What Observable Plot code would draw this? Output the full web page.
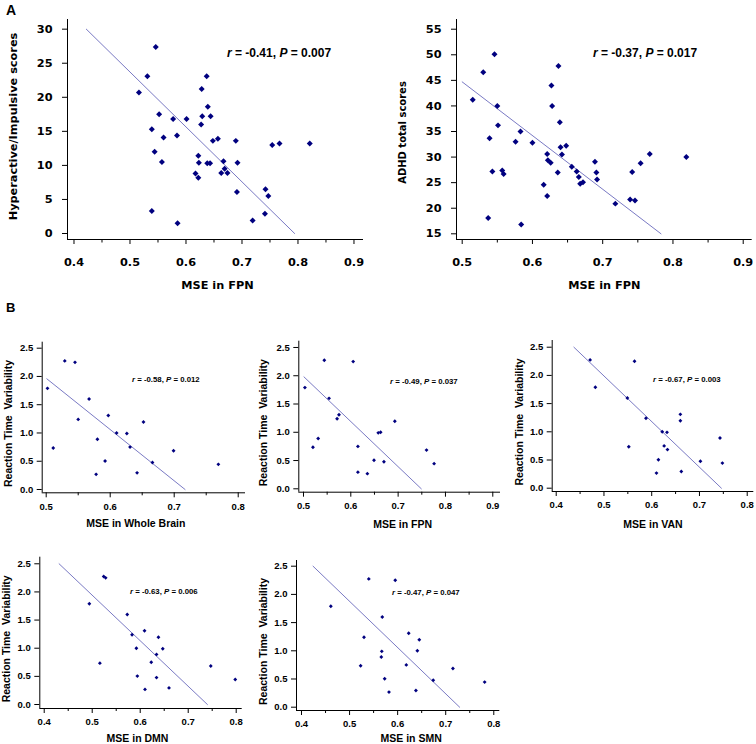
<!DOCTYPE html>
<html><head><meta charset="utf-8">
<script src="https://cdn.jsdelivr.net/npm/d3@7"></script>
<script src="https://cdn.jsdelivr.net/npm/@observablehq/plot@0.6"></script>
<style>
html,body{margin:0;padding:0;background:#fff;}
#root{position:relative;width:756px;height:744px;overflow:hidden;background:#fff;}
.ann,.letter{position:absolute;white-space:nowrap;font-family:"Liberation Sans",Arial,sans-serif;font-weight:bold;line-height:1;color:#000;}
</style></head>
<body><div id="root"></div>
<script>
// ---------- Panel A data (41/42 subjects) ----------
const a1MSE = [0.546,0.531,0.516,0.552,0.539,0.560,0.544,0.557,0.539,0.577,0.584,0.601,0.585,0.637,0.628,0.639,0.629,0.644,0.627,0.648,0.657,0.622,0.623,0.638,0.643,0.617,0.622,0.667,0.669,0.663,0.674,0.689,0.692,0.691,0.719,0.742,0.747,0.741,0.754,0.767,0.821];
const a1Hyper = [27.4,23.1,20.7,17.5,15.3,14.1,12.0,10.5,3.3,16.8,14.4,16.8,1.5,23.1,21.2,18.6,17.2,17.2,16.0,13.6,13.9,11.4,10.4,10.3,10.3,8.8,8.2,10.6,9.5,8.9,8.9,13.6,10.4,6.1,1.9,6.5,5.5,2.9,13.0,13.2,13.2];
const a1FitX = [0.422, 0.794];
const a1FitY = [30, 0];

const a2MSE = [0.546,0.530,0.637,0.515,0.550,0.627,0.628,0.639,0.551,0.539,0.583,0.576,0.600,0.640,0.648,0.642,0.621,0.622,0.626,0.636,0.543,0.557,0.559,0.656,0.663,0.666,0.668,0.672,0.616,0.621,0.689,0.691,0.692,0.718,0.739,0.746,0.742,0.754,0.767,0.819,0.537,0.584];
const a2ADHD = [50.1,46.6,47.8,41.2,40.0,44.0,40.0,36.8,36.2,33.7,35.0,33.0,32.8,31.9,32.2,30.5,30.6,29.4,28.9,27.0,27.2,27.4,26.7,28.1,27.2,26.1,24.8,25.1,24.6,22.4,29.1,27.0,25.6,20.9,21.7,21.5,27.1,28.8,30.6,30.0,18.1,16.8];
const a2FitX = [0.500, 0.783];
const a2FitY = [44.7, 15];

// ---------- Panel B data (18 subjects, same order in every array) ----------
const rtv = [2.275,2.25,1.79,1.60,1.31,1.24,1.195,1.0,0.99,0.89,0.75,0.735,0.685,0.505,0.478,0.445,0.295,0.268];
const mseWhole = [0.529,0.545,0.502,0.567,0.597,0.550,0.652,0.610,0.626,0.580,0.631,0.511,0.699,0.592,0.666,0.769,0.642,0.578];
const mseFPN   = [0.544,0.605,0.503,0.554,0.575,0.571,0.693,0.663,0.658,0.531,0.615,0.520,0.760,0.649,0.670,0.776,0.615,0.635];
const mseVAN   = [0.471,0.564,0.482,0.549,0.660,0.588,0.660,0.622,0.632,0.743,0.626,0.552,0.633,0.614,0.702,0.748,0.662,0.610];
const mseDMN   = [0.524,0.528,0.494,0.573,0.609,0.583,0.638,0.592,0.647,0.634,0.623,0.516,0.747,0.594,0.634,0.798,0.660,0.610];
const mseSMN   = [0.540,0.595,0.461,0.568,0.623,0.530,0.645,0.641,0.567,0.566,0.618,0.523,0.715,0.573,0.674,0.781,0.638,0.582];
const fitWholeX = [0.501,0.717], fitWholeY = [1.958,0];
const fitFPNX   = [0.501,0.749], fitFPNY   = [1.98,0];
const fitVANX   = [0.437,0.746], fitVANY   = [2.5,0];
const fitDMNX   = [0.431,0.740], fitDMNY   = [2.5,0];
const fitSMNX   = [0.424,0.729], fitSMNY   = [2.5,0];

// ---------- statistics & labels ----------
const rValues = ["-0.41","-0.37","-0.58","-0.49","-0.67","-0.63","-0.47"];
const pValues = ["0.007","0.017","0.012","0.037","0.003","0.006","0.047"];
const xTitles = ["MSE in FPN","MSE in FPN","MSE in Whole Brain","MSE in FPN","MSE in VAN","MSE in DMN","MSE in SMN"];
const yTitles = ["Hyperactive/Impulsive scores","ADHD total scores","Reaction Time  Variability","Reaction Time  Variability","Reaction Time  Variability","Reaction Time  Variability","Reaction Time  Variability"];
const panelLetters = ["A","B"];

// tick values
const ticksA1x = [0.4,0.5,0.6,0.7,0.8,0.9], minorA1x = [0.45,0.55,0.65,0.75,0.85];
const ticksA1y = [0,5,10,15,20,25,30];
const ticksA2x = [0.5,0.6,0.7,0.8,0.9], minorA2x = [0.55,0.65,0.75,0.85];
const ticksA2y = [15,20,25,30,35,40,45,50,55];
const ticksB1x = [0.5,0.6,0.7,0.8], minorB1x = [0.55,0.65,0.75];
const ticksB2x = [0.5,0.6,0.7,0.8,0.9], minorB2x = [0.55,0.65,0.75,0.85];
const ticksBx  = [0.4,0.5,0.6,0.7,0.8], minorBx = [0.45,0.55,0.65,0.75];
const ticksBy  = [0,0.5,1,1.5,2,2.5];

// ---------- styling ----------
const navy = "#00007f";
const fitColor = "#7a7ac4";
const root = document.getElementById("root");

const styleA = {family: "DejaVu Sans", tickFont: 11.3, titleFont: 11.3, major: 5, minor: 3.5, xPad: 13, yPad: 10, r: 2.7, annFont: 12};
const styleB = {family: "Liberation Sans", tickFont: 9.5, titleFont: 10.5, major: 5, minor: 3, xPad: 5, yPad: 4, r: 1.75, annFont: 7.8};

const panels = [
  {s: styleA, xs: a1MSE, ys: a1Hyper, fitX: a1FitX, fitY: a1FitY, box: [0,0,378,300], frame: [67,363,19,239],
   xDomain: [0.3884,0.917], yDomain: [-0.88,31.42], xTicks: ticksA1x, xMinor: minorA1x, yTicks: ticksA1y, yFmt: d3.format("d"),
   xt: [2,46], yt: [-54,-3], ann: [227,53]},
  {s: styleA, xs: a2MSE, ys: a2ADHD, fitX: a2FitX, fitY: a2FitY, box: [380,0,756,300], frame: [456,751.7,19,239],
   xDomain: [0.4919,0.9128], yDomain: [13.886,56.9], xTicks: ticksA2x, xMinor: minorA2x, yTicks: ticksA2y, yFmt: d3.format("d"),
   xt: [0,46], yt: [-54,3], ann: [593,53], yTitleFont: 10},
  {s: styleB, xs: mseWhole, ys: rtv, fitX: fitWholeX, fitY: fitWholeY, box: [0,300,250,530], frame: [41.7,245,341.7,492.3],
   xDomain: [0.49375,0.8114], yDomain: [-0.0584,2.606], xTicks: ticksB1x, xMinor: minorB1x, yTicks: ticksBy, yFmt: d3.format(".1f"),
   xt: [-8,31], yt: [-34,6], ann: [132,380]},
  {s: styleB, xs: mseFPN, ys: rtv, fitX: fitFPNX, fitY: fitFPNY, box: [250,300,505,530], frame: [298.3,500,340.7,491.7],
   xDomain: [0.4901,0.9163], yDomain: [-0.06,2.611], xTicks: ticksB2x, xMinor: minorB2x, yTicks: ticksBy, yFmt: d3.format(".1f"),
   xt: [3,32], yt: [-35,6], ann: [390,382]},
  {s: styleB, xs: mseVAN, ys: rtv, fitX: fitVANX, fitY: fitVANY, box: [505,300,756,530], frame: [551.7,753.3,340,491],
   xDomain: [0.3916,0.8138], yDomain: [-0.0585,2.619], xTicks: ticksBx, xMinor: minorBx, yTicks: ticksBy, yFmt: d3.format(".1f"),
   xt: [0,33], yt: [-33,6], ann: [653,380]},
  {s: styleB, xs: mseDMN, ys: rtv, fitX: fitDMNX, fitY: fitDMNY, box: [0,530,250,744], frame: [39.3,241.7,556.7,708],
   xDomain: [0.3908,0.8125], yDomain: [-0.071,2.617], xTicks: ticksBx, xMinor: minorBx, yTicks: ticksBy, yFmt: d3.format(".1f"),
   xt: [-3.5,30.5], yt: [-33,6], ann: [130,592]},
  {s: styleB, xs: mseSMN, ys: rtv, fitX: fitSMNX, fitY: fitSMNY, box: [250,530,505,744], frame: [296,499.3,560,710],
   xDomain: [0.3896,0.8125], yDomain: [-0.0585,2.601], xTicks: ticksBx, xMinor: minorBx, yTicks: ticksBy, yFmt: d3.format(".1f"),
   xt: [13,28], yt: [-33,6], ann: [392,593]}
];

panels.forEach((c, i) => {
  const s = c.s;
  const [bx0, by0, bx1, by1] = c.box;
  const [L, R, T, B] = c.frame;
  const pts = c.xs.map((x, j) => ({x, y: c.ys[j]}));
  const fit = c.fitX.map((x, j) => ({x, y: c.fitY[j]}));
  const txt = {fontSize: s.tickFont, fontWeight: "bold", fontFamily: s.family};
  const ttl = {fontSize: s.titleFont, fontWeight: "bold", fontFamily: s.family, fill: "#000", textAnchor: "middle"};
  const svg = Plot.plot({
    width: bx1 - bx0, height: by1 - by0,
    marginLeft: L - bx0, marginRight: bx1 - R, marginTop: T - by0, marginBottom: by1 - B,
    style: {background: "transparent", overflow: "visible", color: "#000", fontFamily: s.family, fontSize: s.tickFont + "px", fontWeight: "bold"},
    x: {domain: c.xDomain, label: null},
    y: {domain: c.yDomain, label: null},
    marks: [
      Plot.ruleX([c.xDomain[0]], {stroke: "#000", strokeWidth: 1}),
      Plot.ruleY([c.yDomain[0]], {stroke: "#000", strokeWidth: 1}),
      Plot.axisX({ticks: c.xMinor, tickSize: s.minor, tickFormat: () => "", label: null}),
      Plot.axisX({ticks: c.xTicks, tickSize: s.major, tickPadding: s.xPad, tickFormat: d3.format(".1f"), label: null, ...txt}),
      Plot.axisY({ticks: c.yTicks, tickSize: s.major, tickPadding: s.yPad, tickFormat: c.yFmt, label: null, ...txt}),
      Plot.line(fit, {x: "x", y: "y", stroke: fitColor, strokeWidth: 1}),
      Plot.dot(pts, {x: "x", y: "y", symbol: "diamond2", r: s.r, fill: navy}),
      Plot.text([xTitles[i]], {text: d => d, frameAnchor: "bottom", lineAnchor: "middle", dx: c.xt[0], dy: c.xt[1], ...ttl}),
      Plot.text([yTitles[i]], {text: d => d, frameAnchor: "left", rotate: -90, lineAnchor: "middle", dx: c.yt[0], dy: c.yt[1], ...ttl, fontSize: c.yTitleFont || s.titleFont})
    ]
  });
  svg.style.position = "absolute";
  svg.style.left = bx0 + "px";
  svg.style.top = by0 + "px";
  root.appendChild(svg);

  const a = document.createElement("div");
  a.className = "ann";
  a.style.fontSize = s.annFont + "px";
  a.style.left = c.ann[0] + "px";
  a.style.top = (c.ann[1] - 0.49 * s.annFont) + "px";
  a.innerHTML = `<i>r</i> = ${rValues[i]}, <i>P</i> = ${pValues[i]}`;
  root.appendChild(a);
});

// panel letters
[[6, 3, 14], [6, 300.5, 13]].forEach(([x, y, fs], k) => {
  const d = document.createElement("div");
  d.className = "letter";
  d.style.left = x + "px"; d.style.top = y + "px"; d.style.fontSize = fs + "px";
  d.textContent = panelLetters[k];
  root.appendChild(d);
});
</script>
</body></html>
